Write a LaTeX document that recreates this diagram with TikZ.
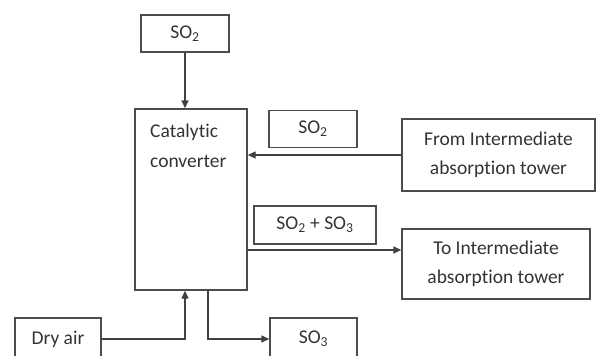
\documentclass[tikz,border=0pt]{standalone}
\usepackage{fontspec}
\setmainfont[Ligatures=NoCommon]{Carlito}
\usetikzlibrary{arrows.meta}
\begin{document}
\begin{tikzpicture}%
	[x=1pt,y=-1pt,
	every node/.style={font=\fontsize{19.5}{29.5}\selectfont, text=black!80},
	box/.style={draw=black!70, line width=1.4pt, inner sep=0pt, align=center},
	flow/.style={draw=black!75, line width=1.4pt, -{Triangle[length=8pt,width=7pt]}}]
%
\useasboundingbox (0,0) rectangle (603,356);
\clip (0,0) rectangle (603,356);
%
%% boxes
\node[box, minimum width=88pt, minimum height=37pt] (so2top) at (185,33.5) {SO\textsubscript{2}};
\node[box, minimum width=112pt, minimum height=181pt] (conv) at (191,199.5) {};
\node[anchor=north west, align=left, inner sep=0pt] (convtext) at (150,124) {Catalytic\\converter};
\node[box, minimum width=88pt, minimum height=37pt] (so2mid) at (313,129) {SO\textsubscript{2}};
\node[box, minimum width=193pt, minimum height=72pt] (fromtower) at (498.5,155) {From Intermediate\\absorption tower};
\node[box, minimum width=122pt, minimum height=38pt] (mix) at (315,225) {SO\textsubscript{2} + SO\textsubscript{3}};
\node[box, minimum width=188pt, minimum height=70pt] (totower) at (496,264) {To Intermediate\\absorption tower};
\node[box, minimum width=86pt, minimum height=42pt] (dryair) at (58,339) {Dry air};
\node[box, minimum width=87pt, minimum height=42pt] (so3) at (313.5,339) {SO\textsubscript{3}};
%
\coordinate (mixout) at (conv.east |- 0,250);
\coordinate (airin) at ([xshift=-6pt]conv.south);
\coordinate (so3out) at ([xshift=17pt]conv.south);
%
%% flows
\draw[flow] (so2top.south) -- (so2top.south |- conv.north);
\draw[flow] (fromtower.west) -- (fromtower.west -| conv.east);
\draw[flow] (mixout) -- (mixout -| totower.west);
\draw[flow] (dryair.east) -| (airin);
\draw[flow] (so3out) |- (so3.west);
%
\end{tikzpicture}
\end{document}
